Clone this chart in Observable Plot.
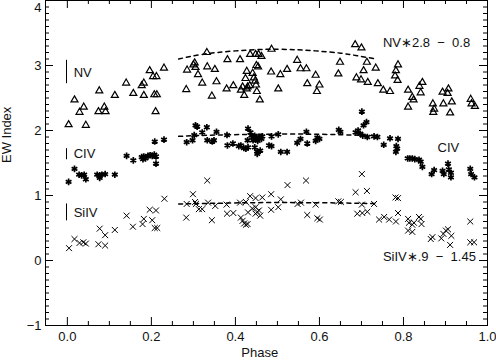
<!DOCTYPE html>
<html><head><meta charset="utf-8">
<script src="https://cdn.jsdelivr.net/npm/d3@7"></script>
<script src="https://cdn.jsdelivr.net/npm/@observablehq/plot@0.6"></script>
<style>body{margin:0;background:#fff}svg{display:block}</style>
</head><body><div id="chart"></div>
<script>
// [phase, EW index]
const nvPoints = [
[0.003,2.09],[0.017,2.47],[0.029,2.28],[0.039,2.36],[0.044,2.08],[0.076,2.61],[0.074,2.29],[0.088,2.36],[0.091,2.29],
[0.113,2.54],[0.140,2.73],[0.157,2.57],[0.177,2.69],[0.182,2.73],[0.182,2.54],[0.196,2.92],[0.204,2.83],[0.212,2.83],
[0.207,2.55],[0.213,2.55],[0.210,2.29],[0.230,2.96],[0.285,2.93],[0.283,2.63],[0.300,3.01],[0.303,3.04],[0.305,2.97],
[0.311,2.86],[0.321,2.73],[0.332,3.20],[0.333,2.98],[0.344,2.53],[0.351,2.94],[0.355,2.75],[0.379,2.64],[0.381,3.09],
[0.395,2.69],[0.411,3.09],[0.413,2.62],[0.421,2.54],[0.427,2.91],[0.424,2.80],[0.417,2.67],[0.429,2.67],[0.434,2.69],
[0.427,2.64],[0.435,3.17],[0.448,3.17],[0.455,3.17],[0.462,3.14],[0.450,3.00],[0.454,2.98],[0.441,2.88],[0.444,2.81],
[0.447,2.76],[0.449,2.70],[0.451,2.60],[0.458,2.47],[0.486,3.25],[0.485,2.90],[0.507,2.86],[0.523,2.94],[0.502,2.64],
[0.547,3.08],[0.555,2.95],[0.569,2.95],[0.571,2.72],[0.591,2.85],[0.600,2.70],[0.594,2.60],[0.645,2.87],[0.649,3.05],
[0.685,3.32],[0.700,3.27],[0.713,3.05],[0.705,2.92],[0.734,2.96],[0.688,2.81],[0.699,2.78],[0.715,2.74],[0.739,2.72],
[0.752,2.62],[0.768,2.60],[0.787,3.01],[0.782,2.92],[0.780,2.84],[0.786,2.77],[0.811,2.62],[0.821,2.51],[0.824,2.47],
[0.811,2.36],[0.838,2.68],[0.845,2.74],[0.841,2.58],[0.870,2.41],[0.873,2.33],[0.871,2.28],[0.893,2.59],[0.907,2.64],
[0.905,2.57],[0.895,2.41],[0.915,2.44],[0.911,2.27],[0.960,2.48],[0.962,2.41],[0.970,2.37]
];
const civPoints = [
[0.003,1.21],[0.017,1.41],[0.028,1.32],[0.034,1.31],[0.040,1.32],[0.044,1.25],[0.071,1.32],[0.077,1.31],[0.077,1.27],
[0.082,1.32],[0.090,1.33],[0.113,1.32],[0.141,1.61],[0.157,1.54],[0.177,1.59],[0.180,1.56],[0.182,1.60],[0.186,1.57],
[0.192,1.61],[0.197,1.62],[0.202,1.61],[0.207,1.63],[0.211,1.60],[0.211,1.49],[0.208,1.83],[0.230,1.86],[0.284,1.82],
[0.298,1.85],[0.302,1.93],[0.305,2.08],[0.309,2.06],[0.321,1.97],[0.332,2.05],[0.333,1.85],[0.345,1.83],[0.349,1.85],
[0.355,1.98],[0.380,1.93],[0.381,1.77],[0.394,1.80],[0.408,1.76],[0.413,1.77],[0.420,1.73],[0.425,1.72],[0.429,1.85],
[0.430,1.74],[0.430,2.03],[0.436,1.97],[0.438,1.92],[0.442,1.85],[0.445,1.87],[0.446,1.92],[0.446,1.74],[0.452,1.87],
[0.452,1.68],[0.452,1.64],[0.453,1.84],[0.456,1.90],[0.459,1.69],[0.462,1.87],[0.464,1.91],[0.480,1.77],[0.486,1.91],
[0.486,1.76],[0.502,1.94],[0.508,1.67],[0.523,1.67],[0.547,1.81],[0.555,1.87],[0.569,1.98],[0.571,1.80],[0.591,1.84],
[0.595,1.89],[0.600,1.87],[0.646,2.01],[0.650,1.98],[0.686,1.97],[0.692,2.00],[0.697,1.95],[0.703,1.92],[0.714,1.90],
[0.701,2.29],[0.705,2.08],[0.712,2.13],[0.730,1.91],[0.738,1.90],[0.753,1.78],[0.768,1.88],[0.787,1.87],[0.783,1.76],
[0.785,1.72],[0.782,1.67],[0.810,1.57],[0.815,1.57],[0.821,1.57],[0.827,1.56],[0.837,1.55],[0.841,1.52],[0.845,1.44],
[0.867,1.33],[0.873,1.39],[0.893,1.38],[0.896,1.33],[0.906,1.49],[0.908,1.40],[0.913,1.35],[0.913,1.28],[0.959,1.41],
[0.961,1.33],[0.969,1.28]
];
const siivPoints = [
[0.004,0.19],[0.017,0.33],[0.029,0.27],[0.038,0.28],[0.044,0.26],[0.074,0.25],[0.077,0.49],[0.090,0.39],[0.090,0.23],
[0.113,0.47],[0.141,0.69],[0.156,0.52],[0.179,0.56],[0.182,0.64],[0.196,0.78],[0.211,0.77],[0.202,0.62],[0.208,0.50],
[0.214,0.50],[0.231,0.95],[0.283,0.66],[0.284,0.87],[0.299,1.02],[0.304,0.90],[0.306,0.87],[0.313,0.79],[0.321,0.79],
[0.333,1.23],[0.335,0.89],[0.344,0.62],[0.352,0.84],[0.379,0.86],[0.380,0.72],[0.395,0.73],[0.411,0.89],[0.425,0.90],
[0.413,0.66],[0.417,0.61],[0.421,0.57],[0.425,0.55],[0.429,0.56],[0.430,0.74],[0.435,0.99],[0.440,0.80],[0.448,0.96],
[0.448,0.82],[0.448,0.72],[0.452,0.75],[0.456,0.77],[0.459,0.69],[0.464,0.97],[0.485,1.02],[0.485,0.78],[0.502,0.82],
[0.508,0.94],[0.524,1.16],[0.548,0.87],[0.556,0.89],[0.568,1.23],[0.571,0.70],[0.591,0.86],[0.595,0.65],[0.601,0.63],
[0.645,0.91],[0.651,0.90],[0.686,1.05],[0.701,1.33],[0.713,1.07],[0.701,0.86],[0.690,0.72],[0.702,0.73],[0.714,0.75],
[0.730,0.87],[0.742,0.63],[0.754,0.67],[0.766,0.63],[0.782,0.60],[0.781,0.97],[0.787,0.96],[0.787,0.73],[0.811,0.64],
[0.813,0.58],[0.821,0.55],[0.825,0.58],[0.837,0.67],[0.841,0.64],[0.843,0.56],[0.811,0.46],[0.821,0.44],[0.865,0.33],
[0.869,0.36],[0.890,0.34],[0.895,0.41],[0.901,0.46],[0.906,0.48],[0.914,0.38],[0.911,0.24],[0.959,0.60],[0.959,0.28],
[0.968,0.28]
];
// dashed fit curves
const nvFit = [[0.265,3.10],[0.32,3.17],[0.40,3.225],[0.50,3.25],[0.59,3.225],[0.65,3.19],[0.69,3.15],[0.735,3.10]];
const civFit = [[0.265,1.91],[0.35,1.93],[0.45,1.94],[0.55,1.945],[0.65,1.935],[0.735,1.92]];
const siivFit = [[0.265,0.87],[0.35,0.88],[0.45,0.89],[0.55,0.89],[0.65,0.885],[0.735,0.875]];
// error-size bars at left: [phase, low, high]
const scaleBars = [[-0.002,2.72,3.08],[-0.002,1.55,1.72],[-0.002,0.61,0.87]];
const leftLabels = [[0.015,2.89,"NV"],[0.015,1.635,"CIV"],[0.015,0.74,"SiIV"]];
const rightLabels = [[0.751,3.355,"NV\u22172.8  \u2212  0.8"],[0.881,1.74,"CIV"],[0.751,0.06,"SiIV\u2217.9  \u2212  1.45"]];
const xTicks = [0, 0.2, 0.4, 0.6, 0.8, 1.0];
const xTickLabels = ["0.0","0.2","0.4","0.6","0.8","1.0"];
const yTicks = [-1, 0, 1, 2, 3, 4];
const yTickLabels = ["\u22121","0","1","2","3","4"];
const xTitle = "Phase";
const yTitle = "EW Index";

const W = 496, H = 362, mL = 45, mR = 9, mT = 0, mB = 37;
const iw = W - mL - mR, ih = H - mT - mB;
const xMinor = d3.range(0, 21).map(i => i * 0.05).filter(v => Math.round(v * 100) % 20 !== 0);
const yMinor = d3.range(-10, 40).map(i => i / 10).filter(v => Math.abs(v - Math.round(v)) > 1e-6);
const MAJ = 8, MIN = 4;
const font = "Liberation Sans, Arial, Helvetica, sans-serif";

const chart = Plot.plot({
  width: W, height: H,
  marginLeft: mL, marginRight: mR, marginTop: mT, marginBottom: mB,
  style: {fontFamily: font, background: "#fff", color: "#000"},
  x: {domain: [-0.052, 1.0], axis: null},
  y: {domain: [-1, 4], axis: null},
  marks: [
    // inward ticks on all four sides
    Plot.tickX(xTicks, {x: d => d, insetTop: ih - MAJ, stroke: "#000"}),
    Plot.tickX(xTicks, {x: d => d, insetBottom: ih - MAJ, stroke: "#000"}),
    Plot.tickX(xMinor, {x: d => d, insetTop: ih - MIN, stroke: "#000"}),
    Plot.tickX(xMinor, {x: d => d, insetBottom: ih - MIN, stroke: "#000"}),
    Plot.tickY(yTicks, {y: d => d, insetRight: iw - MAJ, stroke: "#000"}),
    Plot.tickY(yTicks, {y: d => d, insetLeft: iw - MAJ, stroke: "#000"}),
    Plot.tickY(yMinor, {y: d => d, insetRight: iw - MIN, stroke: "#000"}),
    Plot.tickY(yMinor, {y: d => d, insetLeft: iw - MIN, stroke: "#000"}),
    Plot.frame({stroke: "#000"}),
    // fits
    Plot.line(nvFit, {x: d => d[0], y: d => d[1], curve: "natural", stroke: "#000", strokeDasharray: "4,4"}),
    Plot.line(civFit, {x: d => d[0], y: d => d[1], curve: "natural", stroke: "#000", strokeDasharray: "4,4"}),
    Plot.line(siivFit, {x: d => d[0], y: d => d[1], curve: "natural", stroke: "#000", strokeDasharray: "4,4"}),
    // data
    Plot.dot(nvPoints, {x: d => d[0], y: d => d[1], symbol: "triangle", r: 2.6, stroke: "#000", fill: "none", strokeWidth: 1.2}),
    Plot.dot(civPoints, {x: d => d[0], y: d => d[1], symbol: "asterisk", r: 3.1, stroke: "#000", strokeWidth: 1.7}),
    Plot.dot(siivPoints, {x: d => d[0], y: d => d[1], symbol: "times", r: 2.8, stroke: "#000", strokeWidth: 1}),
    // scale bars and labels
    Plot.ruleX(scaleBars, {x: d => d[0], y1: d => d[1], y2: d => d[2], stroke: "#000"}),
    Plot.text(leftLabels, {x: d => d[0], y: d => d[1], text: d => d[2], textAnchor: "start", fontSize: 13, fill: "#111"}),
    Plot.text(rightLabels, {x: d => d[0], y: d => d[1], text: d => d[2], textAnchor: "start", fontSize: 13, fill: "#111"}),
    // tick labels
    Plot.text(xTicks, {x: d => d, text: (d, i) => xTickLabels[i], frameAnchor: "bottom", dy: 15, fontSize: 13, fill: "#111"}),
    Plot.text(yTicks.slice(0, 5), {y: d => d, text: (d, i) => yTickLabels[i], frameAnchor: "left", dx: -4, textAnchor: "end", fontSize: 13, fill: "#111"}),
    Plot.text([yTicks[5]], {y: d => d, text: [yTickLabels[5]], frameAnchor: "left", dx: -4, dy: 2, textAnchor: "end", lineAnchor: "top", fontSize: 13, fill: "#111"}),
    // titles
    Plot.text([xTitle], {x: [0.458], text: d => d, frameAnchor: "bottom", dy: 31, fontSize: 13, fill: "#111"}),
    Plot.text([yTitle], {text: d => d, frameAnchor: "left", dx: -39, rotate: -90, fontSize: 13, fill: "#111"})
  ]
});
document.getElementById("chart").appendChild(chart);
</script>
</body></html>
